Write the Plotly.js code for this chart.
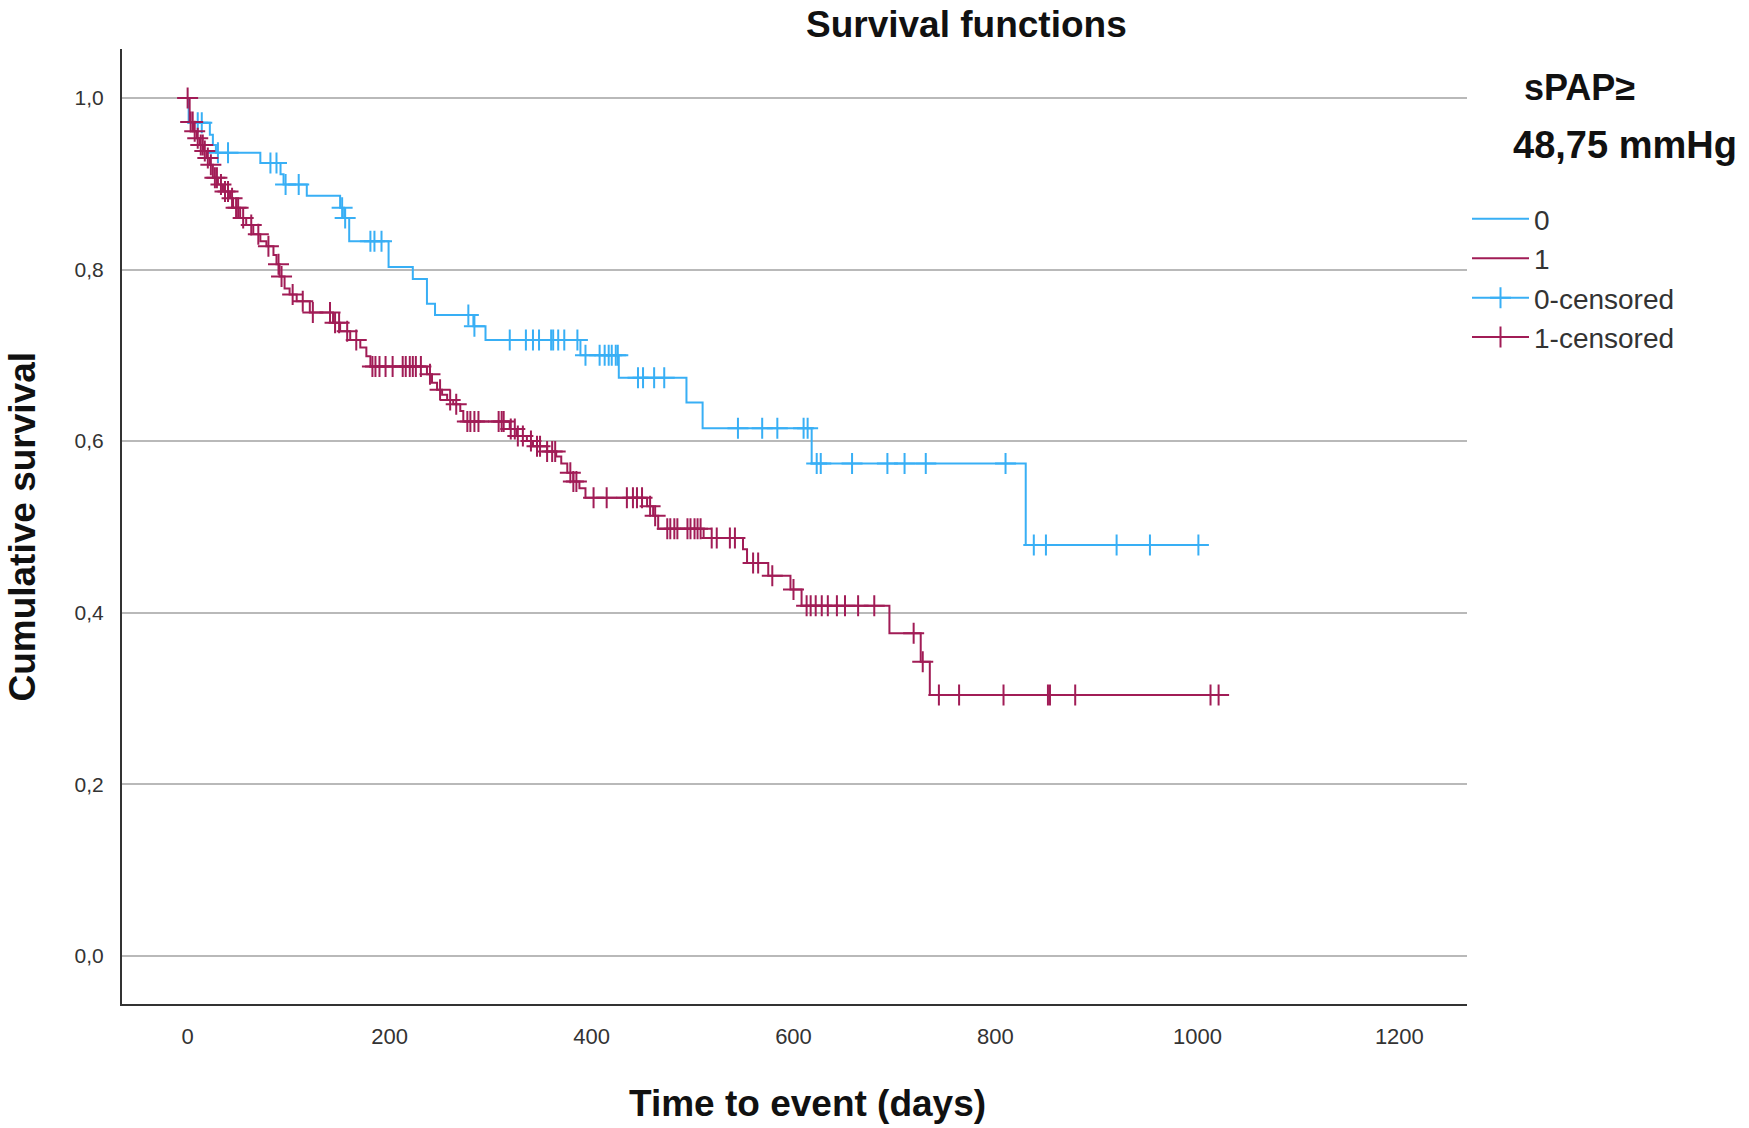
<!DOCTYPE html>
<html>
<head>
<meta charset="utf-8">
<script src="https://cdn.plot.ly/plotly-3.0.1.min.js"></script>
<style>
  html, body { margin: 0; padding: 0; background: #fff; }
  #chart { width: 1749px; height: 1128px; }
</style>
</head>
<body>
<div id="chart"></div>
<script>
// Kaplan-Meier steps (days, cumulative survival)
var group0Times = [0, 1, 22, 25, 28, 72, 92, 95, 118, 151, 155, 160, 199, 223, 237, 245, 283, 295, 389, 427, 494, 510, 618, 830];
var group0Surv = [1.0, 0.971, 0.957, 0.945, 0.936, 0.924, 0.911, 0.899, 0.886, 0.872, 0.860, 0.833, 0.803, 0.789, 0.760, 0.747, 0.734, 0.718, 0.700, 0.674, 0.645, 0.615, 0.574, 0.479];
var group0Censored = [10, 14, 30, 40, 82, 88, 97, 110, 153, 156, 181, 185, 192, 278, 284, 319, 335, 342, 348, 360, 362, 367, 373, 386, 394, 408, 413, 417, 420, 424, 426, 446, 451, 462, 472, 545, 569, 584, 610, 614, 623, 627, 658, 693, 710, 731, 810, 838, 850, 920, 953, 1001];

var group1Times = [0, 2, 6, 9, 12, 16, 19, 22, 25, 30, 35, 42, 45, 52, 58, 65, 72, 78, 85, 88, 91, 96, 101, 108, 121, 144, 151, 161, 171, 177, 181, 237, 242, 247, 252, 257, 263, 270, 273, 319, 326, 336, 342, 356, 365, 370, 376, 382, 388, 394, 455, 461, 466, 511, 550, 554, 575, 597, 608, 695, 726, 735];
var group1Surv = [1.0, 0.972, 0.961, 0.953, 0.945, 0.938, 0.930, 0.922, 0.907, 0.899, 0.891, 0.883, 0.872, 0.860, 0.852, 0.841, 0.833, 0.827, 0.817, 0.806, 0.792, 0.778, 0.771, 0.763, 0.750, 0.738, 0.728, 0.718, 0.709, 0.699, 0.687, 0.678, 0.668, 0.660, 0.654, 0.648, 0.643, 0.635, 0.623, 0.614, 0.606, 0.600, 0.594, 0.588, 0.582, 0.574, 0.563, 0.553, 0.545, 0.534, 0.524, 0.513, 0.498, 0.487, 0.474, 0.458, 0.443, 0.427, 0.408, 0.376, 0.343, 0.304];
var group1Censored = [0, 3, 5, 7, 10, 13, 15, 17, 20, 23, 27, 29, 33, 37, 40, 44, 48, 50, 55, 63, 70, 80, 90, 93, 104, 114, 124, 141, 146, 150, 158, 167, 183, 186, 190, 196, 203, 213, 216, 220, 223, 226, 231, 240, 250, 260, 266, 277, 280, 284, 288, 308, 311, 313, 320, 324, 327, 332, 340, 346, 349, 356, 361, 364, 379, 382, 385, 402, 415, 435, 441, 445, 450, 458, 463, 475, 478, 482, 485, 495, 498, 502, 505, 508, 519, 524, 537, 542, 560, 565, 579, 600, 613, 617, 622, 628, 634, 643, 651, 664, 680, 719, 728, 744, 764, 808, 852, 854, 879, 1013, 1021];

var xTicks = [0, 200, 400, 600, 800, 1000, 1200];
var yTicks = [0, 0.2, 0.4, 0.6, 0.8, 1.0];
var groupNames = ["0", "1", "0-censored", "1-censored"];

var BLUE = "#38aff5";
var RED = "#a11c56";

// survival value of the step function at time t
function survAt(times, surv, t) {
  var v = surv[0];
  for (var i = 0; i < times.length; i++) {
    if (times[i] <= t) v = surv[i];
  }
  return v;
}

function stepTrace(times, surv, censored, name, color, rank) {
  var lastT = censored[censored.length - 1];
  return {
    type: "scatter", mode: "lines", name: name, legendrank: rank,
    x: times.concat([lastT]), y: surv.concat([surv[surv.length - 1]]),
    line: { shape: "hv", color: color, width: 2 },
    hoverinfo: "skip"
  };
}

// censored points separated by gaps so no line joins them, but the legend keeps a line
function censorTrace(times, surv, censored, name, color, rank) {
  var xs = [], ys = [];
  censored.forEach(function(t) {
    xs.push(t, null);
    ys.push(survAt(times, surv, t), null);
  });
  return {
    type: "scatter", mode: "lines+markers", name: name, legendrank: rank,
    x: xs, y: ys, connectgaps: false,
    line: { color: color, width: 2 },
    marker: { symbol: "cross-thin", size: 15, color: color, line: { color: color, width: 2 } },
    hoverinfo: "skip"
  };
}

var traces = [
  stepTrace(group0Times, group0Surv, group0Censored, groupNames[0], BLUE, 1),
  censorTrace(group0Times, group0Surv, group0Censored, groupNames[2], BLUE, 3),
  stepTrace(group1Times, group1Surv, group1Censored, groupNames[1], RED, 2),
  censorTrace(group1Times, group1Surv, group1Censored, groupNames[3], RED, 4)
];

var FONT = "Liberation Sans, Arial, sans-serif";

var layout = {
  width: 1749, height: 1128,
  paper_bgcolor: "#fff", plot_bgcolor: "#fff",
  separators: ",.",
  margin: { l: 122, r: 282, t: 49, b: 124 },
  font: { family: FONT, color: "#333" },
  showlegend: true,
  legend: {
    x: 1.0, xanchor: "left", y: 0.848, yanchor: "top",
    font: { family: FONT, size: 28, color: "#333" },
    itemwidth: 57, tracegroupgap: 0, bgcolor: "rgba(0,0,0,0)"
  },
  xaxis: {
    range: [-65, 1267], tickvals: xTicks, tickformat: "d",
    showgrid: false, zeroline: false, showline: true,
    linecolor: "#333", linewidth: 2, ticks: "",
    tickfont: { family: FONT, size: 22, color: "#333" },
    ticklabelstandoff: 12
  },
  yaxis: {
    range: [-0.056, 1.057], tickvals: yTicks, tickformat: ".1f",
    showgrid: true, gridcolor: "#b9b9b9", gridwidth: 2,
    zeroline: false, showline: true,
    linecolor: "#333", linewidth: 2, ticks: "",
    tickfont: { family: FONT, size: 21, color: "#333" },
    ticklabelstandoff: 12
  },
  annotations: [
    { text: "<b>Survival functions</b>", xref: "paper", yref: "paper", x: 0.628, y: 1.026,
      xanchor: "center", yanchor: "middle", showarrow: false, font: { family: FONT, size: 37, color: "#111" } },
    { text: "<b>Cumulative survival</b>", xref: "paper", yref: "paper", x: -0.0743, y: 0.5,
      xanchor: "center", yanchor: "middle", textangle: -90, showarrow: false, font: { family: FONT, size: 37, color: "#111" } },
    { text: "<b>Time to event (days)</b>", xref: "paper", yref: "paper", x: 0.51, y: -0.1047,
      xanchor: "center", yanchor: "middle", showarrow: false, font: { family: FONT, size: 37, color: "#111" } },
    { text: "<b>sPAP≥</b>", xref: "paper", yref: "paper", x: 1.041, y: 0.96,
      xanchor: "left", yanchor: "middle", showarrow: false, font: { family: FONT, size: 36, color: "#111" } },
    { text: "<b>48,75 mmHg</b>", xref: "paper", yref: "paper", x: 1.0327, y: 0.8995,
      xanchor: "left", yanchor: "middle", showarrow: false, font: { family: FONT, size: 38, color: "#111" } }
  ]
};

Plotly.newPlot("chart", traces, layout, { displayModeBar: false, staticPlot: true });
</script>
</body>
</html>
